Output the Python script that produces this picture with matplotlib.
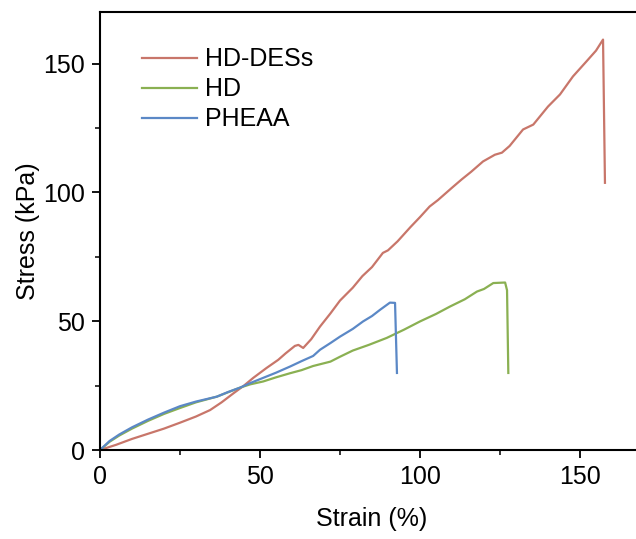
import matplotlib
matplotlib.use("Agg")
import matplotlib.pyplot as plt
from matplotlib.ticker import MultipleLocator

plt.rcParams["font.family"] = ["Liberation Sans", "DejaVu Sans"]

# HD-DESs (red)
des_strain = [0, 5, 10, 15, 20, 25, 30, 34.4, 38, 41.7, 45, 47.9, 52, 55.7, 58, 60.9, 62,
              63.5, 66, 68.75, 72, 75, 79, 82, 85, 88.4, 90, 93, 97, 100, 103, 105.6, 110,
              113, 116, 119.7, 123.4, 125.6, 128, 132.2, 135.4, 140, 143.75, 147.8, 152,
              155, 157.2, 157.8]
des_stress = [0, 2, 4.3, 6.3, 8.3, 10.6, 13, 15.5, 18.5, 22, 25, 28, 31.8, 35, 37.5, 40.4, 40.8,
              39.6, 43, 47.9, 53, 58, 63, 67.5, 71, 76.5, 77.5, 81, 86.5, 90.4, 94.5, 97, 101.8,
              105, 108, 112, 114.6, 115.4, 118, 124.4, 126.3, 133.3, 138, 145, 150.8,
              155, 159.3, 103.7]

# HD (green)
hd_strain = [0, 3, 6, 10, 15, 20, 25, 30, 36.5, 40, 43.75, 47, 51, 55, 59.4, 63, 66.6, 72,
             75, 79, 84, 89.6, 95, 100, 105, 109.4, 114, 117.8, 120, 122.9, 126.6, 127.2, 127.6]
hd_stress = [0, 3.2, 5.6, 8.3, 11.3, 14, 16.3, 18.5, 20.7, 22.4, 24.2, 25.5, 26.6, 28.2, 29.8,
             31, 32.6, 34.3, 36.2, 38.6, 40.8, 43.5, 46.7, 49.9, 52.8, 55.7, 58.5, 61.5, 62.5,
             64.8, 65, 62, 29.9]

# PHEAA (blue)
ph_strain = [0, 3, 6, 10, 15, 20, 25, 30, 36.5, 40, 43.75, 47, 51, 55, 59.4, 63, 66.6, 68.75,
             72, 75, 79, 82.2, 85, 87.5, 90.6, 92.2, 92.8]
ph_stress = [0, 3.5, 6, 8.8, 11.8, 14.5, 17, 18.8, 20.7, 22.5, 24.2, 26, 28, 30, 32.4, 34.5,
             36.5, 38.9, 41.5, 44, 47, 49.9, 52, 54.4, 57.2, 57.1, 29.9]

fig = plt.figure(figsize=(6.36, 5.39), dpi=100)
# the axes run slightly past the right edge of the figure, as in the cropped original
ax = fig.add_axes([100 / 636, 89 / 539, 544 / 636, 438 / 539])

ax.plot(des_strain, des_stress, color="#c8766a", lw=1.6, label="HD-DESs")
ax.plot(hd_strain, hd_stress, color="#8ab052", lw=1.6, label="HD")
ax.plot(ph_strain, ph_stress, color="#5b88c6", lw=1.6, label="PHEAA")

ax.set_xlim(0, 170)
ax.set_ylim(0, 170)
ax.xaxis.set_major_locator(MultipleLocator(50))
ax.xaxis.set_minor_locator(MultipleLocator(25))
ax.yaxis.set_major_locator(MultipleLocator(50))
ax.yaxis.set_minor_locator(MultipleLocator(25))
ax.tick_params(which="major", direction="out", length=6, width=1.3, labelsize=18, pad=5)
ax.tick_params(which="minor", direction="out", length=3.5, width=1.1)
for side in ["left", "bottom", "top", "right"]:
    ax.spines[side].set_linewidth(1.5)

ax.set_xlabel("Strain (%)", fontsize=18, labelpad=12.5)
ax.set_ylabel("Stress (kPa)", fontsize=18, labelpad=1.8)

ax.legend(loc="upper left", bbox_to_anchor=(0.077, 0.919), frameon=False, fontsize=18,
          handlelength=2.2, handletextpad=0.32, labelspacing=0.24, borderaxespad=0,
          borderpad=0)

fig.savefig("out.png", dpi=100)
